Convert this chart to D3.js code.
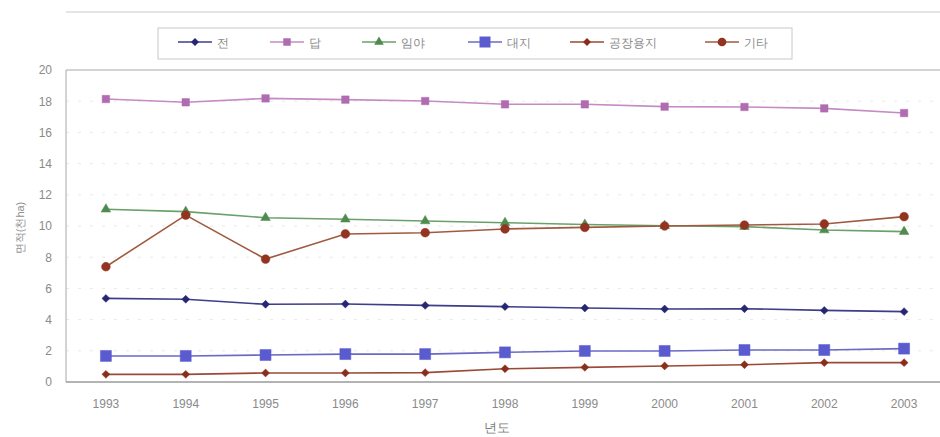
<!DOCTYPE html>
<html>
<head>
<meta charset="utf-8">
<script src="https://cdn.jsdelivr.net/npm/d3@7"></script>
<style>
  html, body { margin: 0; padding: 0; background: #fff; }
  svg { display: block; }
  text { font-family: "Liberation Sans", Arial, sans-serif; }
</style>
</head>
<body>
<svg id="chart" width="940" height="437"></svg>
<script>
// Land area by use, 1993-2003 (thousand ha)
const years = ["1993","1994","1995","1996","1997","1998","1999","2000","2001","2002","2003"];
const seriesNames = ["전","답","임야","대지","공장용지","기타"];
const jeon    = [5.36, 5.30, 4.98, 5.00, 4.91, 4.83, 4.74, 4.68, 4.70, 4.59, 4.51];
const dap     = [18.14, 17.93, 18.18, 18.10, 18.01, 17.80, 17.80, 17.65, 17.63, 17.54, 17.24];
const imya    = [11.07, 10.92, 10.53, 10.43, 10.32, 10.21, 10.10, 10.02, 9.96, 9.74, 9.64];
const daeji   = [1.67, 1.67, 1.73, 1.79, 1.79, 1.90, 1.99, 1.99, 2.05, 2.05, 2.14];
const gongjang= [0.49, 0.49, 0.58, 0.58, 0.60, 0.85, 0.94, 1.03, 1.11, 1.24, 1.24];
const gita    = [7.39, 10.70, 7.88, 9.49, 9.57, 9.81, 9.91, 10.00, 10.06, 10.13, 10.60];
const yTicks  = [0, 2, 4, 6, 8, 10, 12, 14, 16, 18, 20];
const yTitle  = "면적(천ha)";
const xTitle  = "년도";

const seriesValues = [jeon, dap, imya, daeji, gongjang, gita];
const styles = [
  { line: "#3d3d8a", fill: "#262673", shape: "diamond",  size: 40 },
  { line: "#c48bc4", fill: "#b06cb0", shape: "square",   size: 56 },
  { line: "#6aa06a", fill: "#4e8c4e", shape: "triangle", size: 40 },
  { line: "#6a6ac4", fill: "#5b5bd0", shape: "square",   size: 121 },
  { line: "#9a4a36", fill: "#8a2e1c", shape: "diamond",  size: 40 },
  { line: "#a05a40", fill: "#933420", shape: "circle",   size: 60 }
];
const symbolType = {
  diamond: d3.symbolDiamond2, square: d3.symbolSquare,
  triangle: d3.symbolTriangle, circle: d3.symbolCircle
};

const svg = d3.select("#chart");
const plot = { left: 66, right: 944, top: 70, bottom: 382 };

const x = d3.scaleBand().domain(years).range([plot.left, plot.right]);
const xc = d => x(d) + x.bandwidth() / 2;
const y = d3.scaleLinear().domain([0, 20]).range([plot.bottom, plot.top]);

// faint rule above the legend
svg.append("line")
  .attr("x1", 66).attr("x2", 940).attr("y1", 12).attr("y2", 12)
  .attr("stroke", "#dcdcdc").attr("stroke-width", 1.5);

// faint dotted gridlines
svg.append("g").selectAll("line")
  .data(yTicks.filter(t => t > 0 && t < 20))
  .join("line")
  .attr("x1", plot.left).attr("x2", 940)
  .attr("y1", d => y(d)).attr("y2", d => y(d))
  .attr("stroke", "#e8e8e8").attr("stroke-width", 1)
  .attr("stroke-dasharray", "3,9");

// plot frame: left, top and bottom edges
svg.append("path")
  .attr("d", `M${plot.left},${plot.bottom}V${plot.top}H940`)
  .attr("fill", "none").attr("stroke", "#a8a8a8").attr("stroke-width", 1);
svg.append("line")
  .attr("x1", plot.left).attr("x2", 940)
  .attr("y1", plot.bottom).attr("y2", plot.bottom)
  .attr("stroke", "#9a9a9a").attr("stroke-width", 1.5);

// y axis
const yAxis = d3.axisLeft(y).tickValues(yTicks).tickSize(0).tickPadding(14);
svg.append("g").attr("transform", `translate(${plot.left},0)`).call(yAxis)
  .call(g => g.select(".domain").remove())
  .call(g => g.selectAll("text").attr("fill", "#8a8a8a").attr("font-size", 12));

// x axis
const xAxis = d3.axisBottom(x).tickSize(0).tickPadding(17);
svg.append("g").attr("transform", `translate(0,${plot.bottom})`).call(xAxis)
  .call(g => g.select(".domain").remove())
  .call(g => g.selectAll("text").attr("fill", "#8a8a8a").attr("font-size", 12));

// axis titles
svg.append("text")
  .attr("transform", "translate(24,228) rotate(-90)")
  .attr("text-anchor", "middle").attr("fill", "#909090").attr("font-size", 11)
  .attr("font-family", "'Noto Sans CJK KR', sans-serif")
  .text(yTitle);
svg.append("text")
  .attr("x", 497).attr("y", 432)
  .attr("text-anchor", "middle").attr("fill", "#7a7a7a").attr("font-size", 13)
  .attr("font-family", "'Noto Sans CJK KR', sans-serif")
  .text(xTitle);

// series lines and markers
const line = d3.line().x((d, i) => xc(years[i])).y(d => y(d));
seriesValues.forEach((vals, si) => {
  const st = styles[si];
  const g = svg.append("g");
  g.append("path").datum(vals)
    .attr("d", line).attr("fill", "none")
    .attr("stroke", st.line).attr("stroke-width", 1.6);
  g.selectAll("path.mk").data(vals).join("path")
    .attr("class", "mk")
    .attr("transform", (d, i) => `translate(${xc(years[i])},${y(d)})`)
    .attr("d", d3.symbol().type(symbolType[st.shape]).size(st.size))
    .attr("fill", st.fill).attr("stroke", st.fill).attr("stroke-width", 0.5);
});

// legend
const legendBox = { x: 158, y: 28, w: 634, h: 31 };
svg.append("rect")
  .attr("x", legendBox.x).attr("y", legendBox.y)
  .attr("width", legendBox.w).attr("height", legendBox.h)
  .attr("fill", "#fff").attr("stroke", "#c8c8c8").attr("stroke-width", 1);
const legendX = [178, 270, 362, 468, 570, 705];
const legendY = 42;
seriesNames.forEach((name, si) => {
  const st = styles[si];
  const lx = legendX[si];
  const g = svg.append("g");
  g.append("line")
    .attr("x1", lx).attr("x2", lx + 34)
    .attr("y1", legendY).attr("y2", legendY)
    .attr("stroke", st.line).attr("stroke-width", 1.6);
  g.append("path")
    .attr("transform", `translate(${lx + 17},${legendY})`)
    .attr("d", d3.symbol().type(symbolType[st.shape]).size(st.size))
    .attr("fill", st.fill);
  g.append("text")
    .attr("x", lx + 39).attr("y", legendY + 4.5)
    .attr("fill", "#8a8a8a").attr("font-size", 11.5)
    .attr("font-family", "'Noto Sans CJK KR', sans-serif")
    .text(name);
});
</script>
</body>
</html>
